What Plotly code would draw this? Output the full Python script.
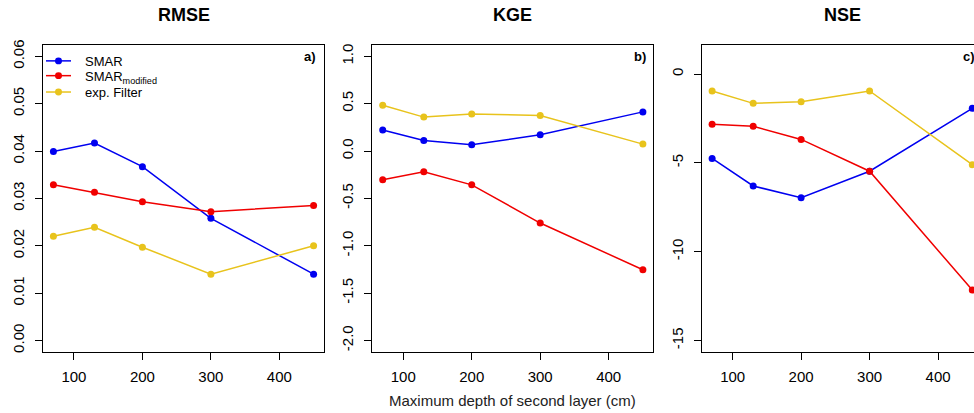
import plotly.graph_objects as go

# ---- data ----
depth = [70, 130, 200, 300, 450]

rmse_smar = [0.0399, 0.0417, 0.0367, 0.0258, 0.0140]
rmse_mod = [0.0329, 0.0313, 0.0293, 0.0272, 0.0285]
rmse_exp = [0.0220, 0.0239, 0.0197, 0.0140, 0.0200]

kge_smar = [0.223, 0.111, 0.066, 0.171, 0.413]
kge_mod = [-0.302, -0.219, -0.357, -0.760, -1.253]
kge_exp = [0.483, 0.358, 0.390, 0.375, 0.073]

nse_smar = [-4.75, -6.30, -6.96, -5.47, -1.93]
nse_mod = [-2.83, -2.94, -3.68, -5.47, -12.16]
nse_exp = [-0.95, -1.65, -1.56, -0.95, -5.10]

series_names = ["SMAR", "SMAR<sub>modified</sub>", "exp. Filter"]
series_colors = ["#0000F0", "#F00000", "#E8C31C"]

panel_titles = ["RMSE", "KGE", "NSE"]
panel_tags = ["a)", "b)", "c)"]

x_tickvals = [100, 200, 300, 400]
y_ticks_a = [0.00, 0.01, 0.02, 0.03, 0.04, 0.05, 0.06]
y_ticktext_a = ["0.00", "0.01", "0.02", "0.03", "0.04", "0.05", "0.06"]
y_ticks_b = [-2.0, -1.5, -1.0, -0.5, 0.0, 0.5, 1.0]
y_ticktext_b = ["-2.0", "-1.5", "-1.0", "-0.5", "0.0", "0.5", "1.0"]
y_ticks_c = [-15, -10, -5, 0]
y_ticktext_c = ["-15", "-10", "-5", "0"]

xlabel = "Maximum depth of second layer (cm)"

# ---- layout geometry ----
W, H = 974, 413
FONT = "Liberation Sans, Arial, sans-serif"
dom_a = [43 / W, 324 / W]
dom_b = [372.3 / W, 653.3 / W]
dom_c = [701.7 / W, 1.0]
ydom = [(H - 352) / H, (H - 40.5) / H]
xr = [54.8, 465.2]
xr_c = [54.8, 54.8 + (W - 701.7) / 281.0 * 410.4]

fig = go.Figure()

panels = [
    (rmse_smar, rmse_mod, rmse_exp),
    (kge_smar, kge_mod, kge_exp),
    (nse_smar, nse_mod, nse_exp),
]
for p, data in enumerate(panels):
    xa = "x" if p == 0 else f"x{p+1}"
    ya = "y" if p == 0 else f"y{p+1}"
    for s, vals in enumerate(data):
        fig.add_trace(go.Scatter(
            x=depth, y=vals, mode="lines+markers",
            name=series_names[s],
            line=dict(color=series_colors[s], width=1.5),
            marker=dict(color=series_colors[s], size=7, line=dict(width=0)),
            xaxis=xa, yaxis=ya, showlegend=False, cliponaxis=False,
        ))

axis_common = dict(
    showgrid=False, zeroline=False, showline=True, linecolor="black",
    linewidth=1, ticks="outside", ticklen=7, tickwidth=1, tickcolor="black",
    tickfont=dict(family=FONT, size=15, color="black"),
)
xcommon = dict(ticklabelstandoff=4, **axis_common)
ycommon = dict(ticklabelstandoff=5, tickangle=-90, **axis_common)

fig.update_layout(
    width=W, height=H, margin=dict(l=0, r=0, t=0, b=0),
    paper_bgcolor="white", plot_bgcolor="white",
    font=dict(family=FONT, color="black"),
    showlegend=False,
    xaxis=dict(domain=dom_a, range=xr, tickvals=x_tickvals, anchor="y", mirror=True, **xcommon),
    xaxis2=dict(domain=dom_b, range=xr, tickvals=x_tickvals, anchor="y2", mirror=True, **xcommon),
    xaxis3=dict(domain=dom_c, range=xr_c, tickvals=x_tickvals, anchor="y3", mirror=True, **xcommon),
    yaxis=dict(domain=ydom, range=[-0.0024, 0.0624], tickvals=y_ticks_a, ticktext=y_ticktext_a,
               anchor="x", mirror=True, **ycommon),
    yaxis2=dict(domain=ydom, range=[-2.12, 1.12], tickvals=y_ticks_b, ticktext=y_ticktext_b,
                anchor="x2", mirror=True, **ycommon),
    yaxis3=dict(domain=ydom, range=[-15.64, 1.64], tickvals=y_ticks_c, ticktext=y_ticktext_c,
                anchor="x3", mirror=False, **ycommon),
)

# ---- manual legend (inside panel a, top-left) ----
leg_rows_px = [56.7, 71.7, 88.3]
leg_text_px = [57.0, 73.5, 88.3]
for s in range(3):
    yp = (H - leg_rows_px[s]) / H
    fig.add_shape(type="line", xref="paper", yref="paper",
                  x0=46 / W, x1=71 / W, y0=yp, y1=yp,
                  line=dict(color=series_colors[s], width=1.5))
    fig.add_shape(type="circle", xref="paper", yref="paper",
                  x0=(58.5 - 3.5) / W, x1=(58.5 + 3.5) / W,
                  y0=yp - 3.5 / H, y1=yp + 3.5 / H,
                  fillcolor=series_colors[s], line=dict(width=0))
    fig.add_annotation(text=series_names[s], xref="paper", yref="paper",
                       x=82.5 / W, y=(H - leg_text_px[s]) / H, xanchor="left", yanchor="middle",
                       showarrow=False, font=dict(family=FONT, size=13, color="black"))

centers = [(dom_a[0] + dom_a[1]) / 2, (dom_b[0] + dom_b[1]) / 2, (701.7 + 983) / 2 / W]
rights = [317.5 / W, 647.5 / W, 976.5 / W]
for i in range(3):
    fig.add_annotation(text=f"<b>{panel_titles[i]}</b>", xref="paper", yref="paper",
                       x=centers[i], y=(H - 10) / H, xanchor="center", yanchor="middle",
                       showarrow=False, font=dict(family=FONT, size=18, color="black"))
    fig.add_annotation(text=f"<b>{panel_tags[i]}</b>", xref="paper", yref="paper",
                       x=rights[i], y=(H - 52.7) / H, xanchor="right", yanchor="middle",
                       showarrow=False, font=dict(family=FONT, size=13, color="black"))

fig.add_annotation(text=xlabel, xref="paper", yref="paper", x=512.7 / W, y=(H - 401.7) / H,
                   xanchor="center", yanchor="middle", showarrow=False,
                   font=dict(family=FONT, size=15, color="#222222"))

fig.write_html(
    "out.html",
    config={"displayModeBar": False},
    post_script="document.body.style.margin='0';document.body.style.overflow='hidden';",
)
